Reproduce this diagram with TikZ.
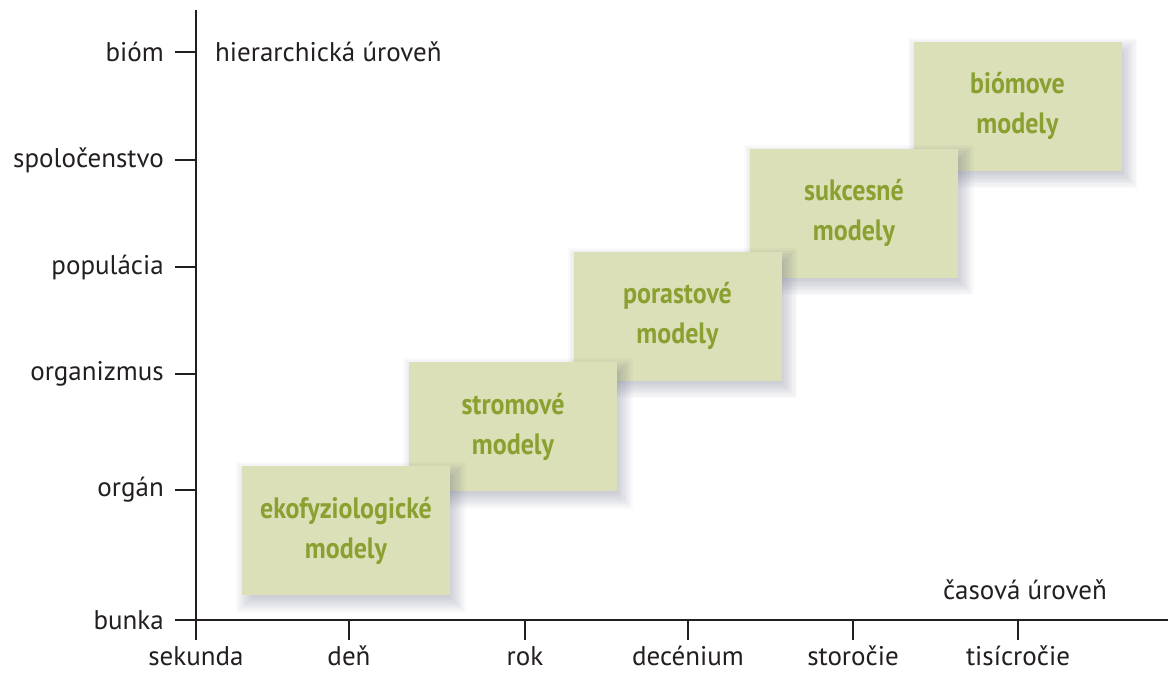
\documentclass[tikz,border=0pt]{standalone}
\usepackage{fontspec}
\setmainfont{PT Sans}
\newfontfamily\modelfont[FakeStretch=0.88]{PT Sans}
\usetikzlibrary{positioning}
\definecolor{boxclr}{RGB}{220,224,184}
\definecolor{modclr}{RGB}{138,160,48}
\definecolor{axclr}{RGB}{35,31,32}
\definecolor{shdclr}{RGB}{80,86,112}
\tikzset{ %
  ,x=1pt,y=-1pt
  ,every node/.style={font=\fontsize{27}{28}\selectfont, text=axclr}
  ,axis/.style={draw=axclr, line width=1.4pt}
  ,model/.style={fill=boxclr, minimum width=208pt, minimum height=129pt, inner sep=0, align=center, text=modclr,
     font=\modelfont\bfseries\fontsize{29.5}{40}\selectfont}
  ,shadowlayer/.style={fill=shdclr, opacity=0.03}
  ,lvl/.style={anchor=east, inner sep=0}
  ,period/.style={anchor=north, inner sep=0}
}
% soft shadow under a model box centred at (#1,#2)
\newcommand{\modelshadow}[2]{%
  \foreach \s in {1,...,11}
    \fill[shadowlayer] ({#1+5-97-1.6*\s},{#2+7-57.5-1.6*\s}) rectangle ({#1+5+97+1.6*\s},{#2+7+57.5+1.6*\s});
}

\begin{document}
\begin{tikzpicture}
      \useasboundingbox (0,0) rectangle (1168,673);
      % axes
      \coordinate (top) at (196,10);
      \coordinate (foot) at (196,640);
      \coordinate (lend) at (175,620);
      \coordinate (rend) at (1168,620);
      \draw[axis] (top) -- (foot) (lend) -- (rend);
      % hierarchy levels
      \foreach \y/\name/\txt in {52/biom/bióm, 160/spol/spoločenstvo, 267/popul/populácia, 374/organ/organizmus, 490/orgn/orgán, 620/bunk/bunka} {
        \node[lvl] (\name) at (164,\y) {\txt};
        \draw[axis] (175,\y) -- (196,\y);
      }
      % time scales
      \foreach \x/\name/\txt in {196/sek/sekunda, 349/den/deň, 525/rok/rok, 688/dec/decénium, 853/stor/storočie, 1018/tis/tisícročie} {
        \draw[axis] (\x,620) -- (\x,640);
        \node[period] (\name) at (\x,646) {\txt};
      }
      \node[anchor=west, inner sep=0] (hier) at (215,52) {hierarchická úroveň};
      \node[anchor=east, inner sep=0] (cas) at (1107,590) {časová úroveň};
      % models
      \modelshadow{1017.5}{106}
      \node[model] (biome) at (1017.5,106) {biómove\\modely};
      \modelshadow{854}{213}
      \node[model] (sukces) at (854,213) {sukcesné\\modely};
      \modelshadow{677.5}{316}
      \node[model] (porast) at (677.5,316) {porastové\\modely};
      \modelshadow{513}{426.5}
      \node[model] (strom) at (513,426.5) {stromové\\modely};
      \modelshadow{346}{530.5}
      \node[model] (ekofyz) at (346,530.5) {ekofyziologické\\modely};
    \end{tikzpicture}
\end{document}
